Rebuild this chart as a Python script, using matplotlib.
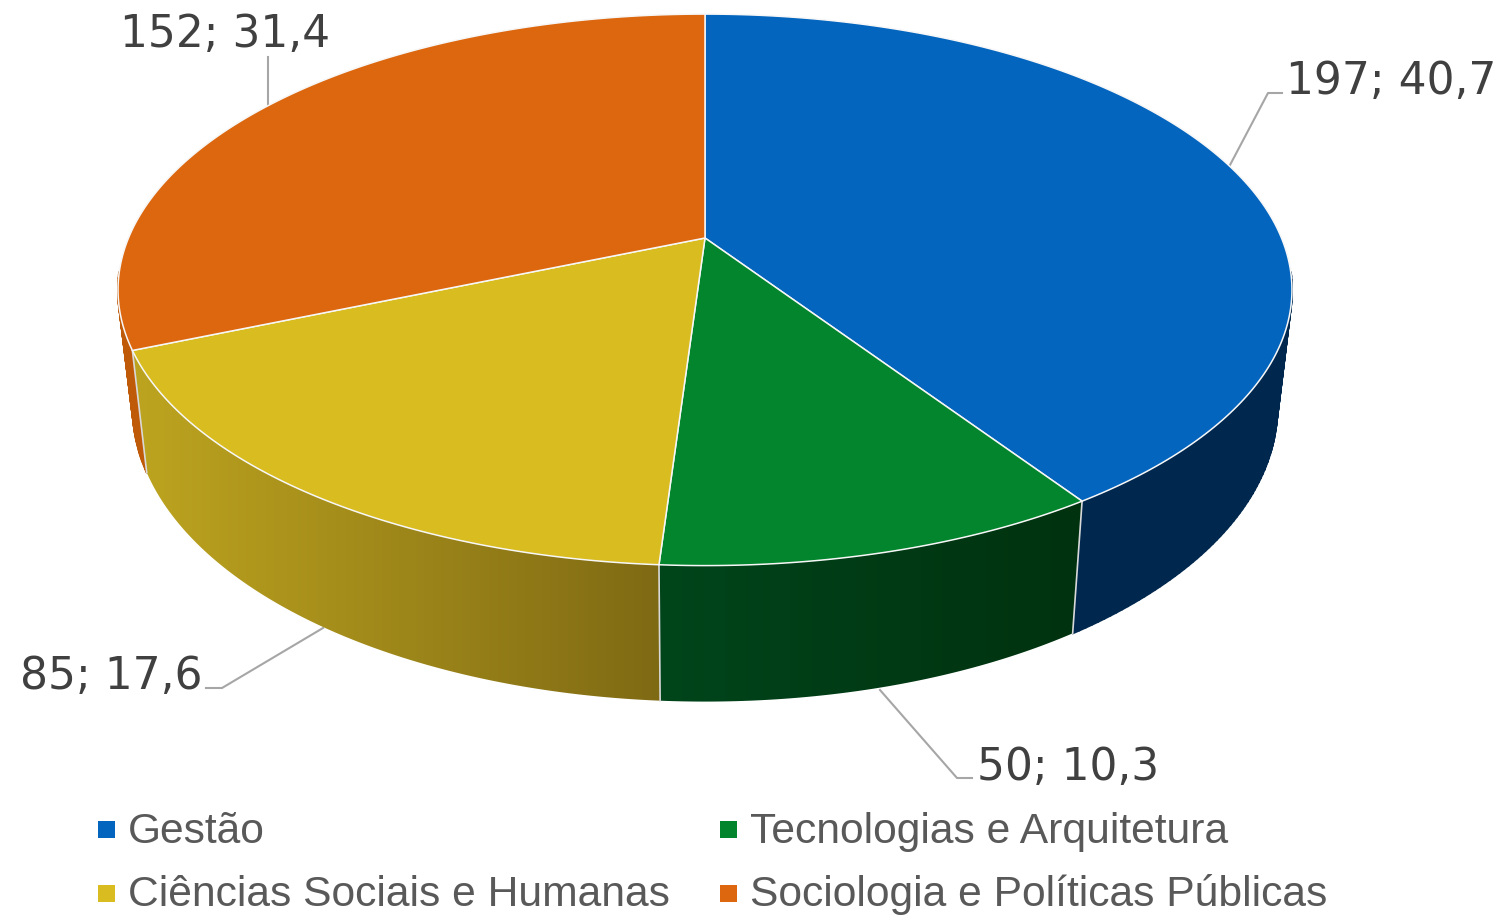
import numpy as np
import matplotlib
matplotlib.use("Agg")
import matplotlib.pyplot as plt
from matplotlib.collections import PolyCollection
from matplotlib.colors import to_rgb
from matplotlib.patches import Polygon, Rectangle

categorias = ["Gestão", "Tecnologias e Arquitetura", "Ciências Sociais e Humanas", "Sociologia e Políticas Públicas"]
valores = [197, 50, 85, 152]
percentagens = ["40,7", "10,3", "17,6", "31,4"]
cores = ["#0465BF", "#03852D", "#D9BC20", "#DC670E"]

# cor da parede lateral: esquerda -> direita
lado_esq = ["#00284F", "#00451B", "#BCA31F", "#BF5A08"]
lado_dir = ["#00284F", "#00320F", "#7F6A14", "#BF5A08"]

# geometria da tarte em perspetiva (pixeis)
CX, CY = 705, 238
A, B, K = 576.5, 266, 0.188


def topo(t):
    # t em radianos, sentido horario a partir do topo
    X, Y = np.sin(t), np.cos(t)
    d = 1 + K * Y
    return CX + A * X / d, CY - B * Y / d


def base(t):
    x, y = topo(t)
    return CX + (x - CX) * 0.975, y + 113 - 23 * np.cos(t)


fig = plt.figure(figsize=(15.01, 9.16), dpi=100)
ax = fig.add_axes([0, 0, 1, 1])

fracoes = np.cumsum([0] + valores) / sum(valores) * 2 * np.pi

# paredes de cor lisa: quadrilateros para apanhar a silhueta (so a parte da frente)
for i in [3, 0]:
    ts = np.linspace(fracoes[i], fracoes[i + 1], 200)
    ts = ts[np.cos(ts) < -0.12]
    xt, yt = topo(ts)
    xb, yb = base(ts)
    quads = [[(xt[j], yt[j]), (xt[j + 1], yt[j + 1]), (xb[j + 1], yb[j + 1]), (xb[j], yb[j])]
             for j in range(len(ts) - 1)]
    ax.add_collection(PolyCollection(quads, facecolors=lado_esq[i], edgecolors=lado_esq[i],
                                     linewidths=1.5, zorder=2))

# paredes com gradiente na horizontal
colunas = np.arange(1501) + 0.5
for i in [2, 1]:
    ts = np.linspace(fracoes[i], fracoes[i + 1], 200)
    xt, yt = topo(ts)
    xb, yb = base(ts)
    pts = np.column_stack([np.r_[xt, xb[::-1]], np.r_[yt, yb[::-1]]])
    parede = Polygon(pts, closed=True, facecolor="none", edgecolor="none", transform=ax.transData)
    ax.add_patch(parede)
    f = np.clip((colunas - xb.min()) / (xb.max() - xb.min()), 0, 1)
    c0, c1 = np.array(to_rgb(lado_esq[i])), np.array(to_rgb(lado_dir[i]))
    grad = (f[:, None] * (c1 - c0) + c0)[None, :, :]
    im = ax.imshow(grad, extent=[0, 1501, 916, 0], aspect="auto", interpolation="nearest", zorder=2.5)
    im.set_clip_path(parede)

# juntas entre fatias na parede
for f in fracoes[1:4]:
    xa, ya = topo(f)
    xb, yb = base(f)
    ax.plot([xa, xb], [ya, yb], color="#D9D9D9", lw=1.2, zorder=3)

# face de cima
for i in range(len(valores)):
    ts = np.linspace(fracoes[i], fracoes[i + 1], 200)
    xs, ys = topo(ts)
    pts = np.column_stack([np.r_[CX, xs], np.r_[CY, ys]])
    ax.add_patch(Polygon(pts, closed=True, facecolor=cores[i], edgecolor="#F7F7F7",
                         linewidth=1.1, joinstyle="round", zorder=4))

# linhas de chamada
linhas = [
    ([1230, 1268, 1282], [165, 93, 93]),
    ([268, 268], [105, 57]),
    ([323, 222, 206], [628, 688, 688]),
    ([880, 957, 972], [690, 778, 778]),
]
for xs, ys in linhas:
    ax.plot(xs, ys, color="#A6A6A6", lw=1.5, zorder=1)

# rotulos
pos_rotulos = [(1286, 94), (977, 780), (20, 689), (120, 47)]
for v, p, (x, y) in zip(valores, percentagens, pos_rotulos):
    ax.text(x, y, f"{v}; {p}", fontsize=31.6, color="#404040", family="DejaVu Sans",
            ha="left", va="baseline", zorder=5)

# legenda
pos_legenda = [(98, 821, 843), (720, 821, 843), (98, 885, 906), (720, 885, 906)]
for nome, cor, (x, y, b) in zip(categorias, cores, pos_legenda):
    ax.add_patch(Rectangle((x, y), 17, 17, facecolor=cor, edgecolor="none", zorder=5))
    ax.text(x + 30, b, nome, fontsize=30.7, color="#595959", family="Liberation Sans",
            ha="left", va="baseline", zorder=5)

ax.set_xlim(0, 1501)
ax.set_ylim(916, 0)
ax.axis("off")

fig.savefig("out.png", dpi=100, facecolor="white")
